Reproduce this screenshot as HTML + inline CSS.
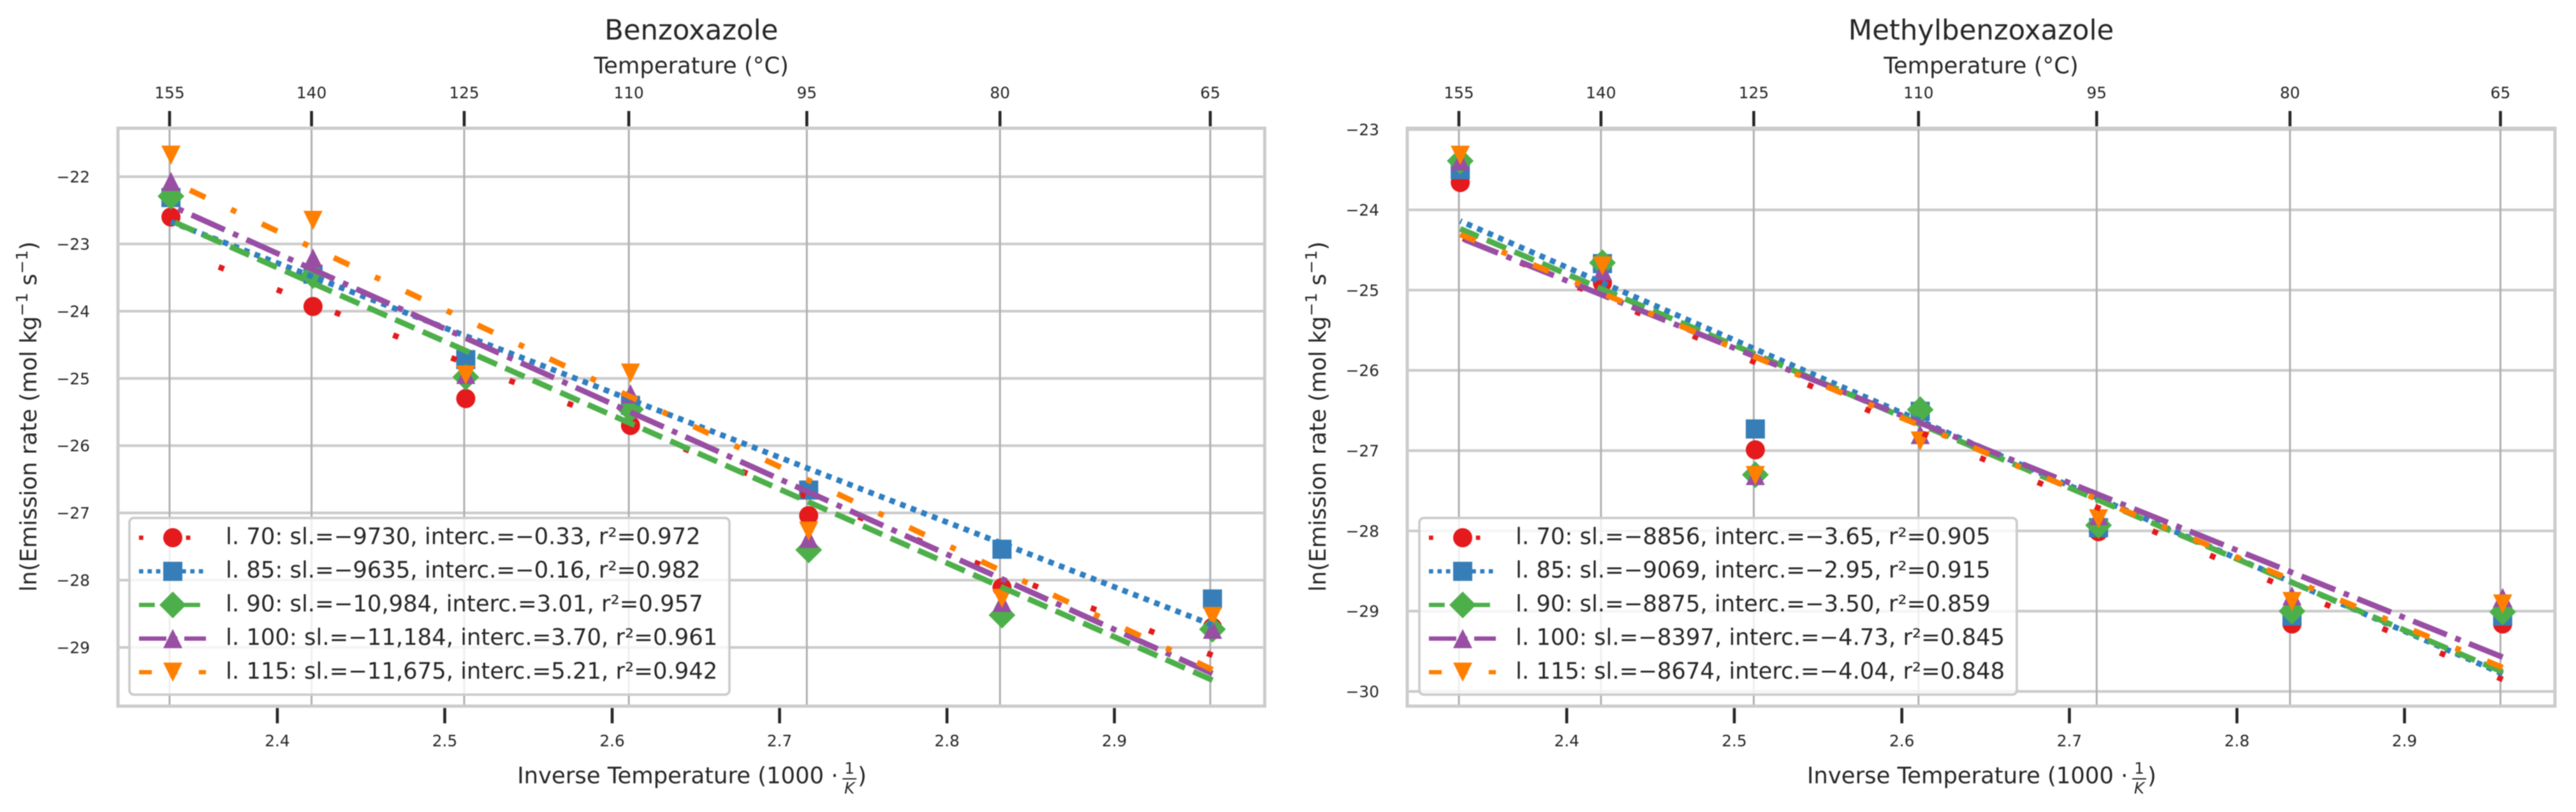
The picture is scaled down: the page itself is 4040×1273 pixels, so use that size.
<!DOCTYPE html>
<html lang="en">
<head>
<meta charset="utf-8">
<title>Emission rate Arrhenius plots</title>
<style>
html,body{margin:0;padding:0;background:#fff;width:4040px;height:1273px;overflow:hidden}
svg{display:block;filter:blur(0.7px)}
text{font-family:"DejaVu Sans","Liberation Sans",sans-serif;fill:#262626}
</style>
</head>
<body>
<svg id="chart" xmlns="http://www.w3.org/2000/svg" width="4040" height="1273" viewBox="0 0 4040 1273"></svg>
<script>
// ---- chart data ----
const levels = [70, 85, 90, 100, 115];
const tempTicks = [155, 140, 125, 110, 95, 80, 65];
const inverseTicks = [2.4, 2.5, 2.6, 2.7, 2.8, 2.9];
const inverseLimits = [2.3048, 2.9898];

const benzTitle = "Benzoxazole";
const benzYTicks = [-22, -23, -24, -25, -26, -27, -28, -29];
const benzYLimits = [-29.873, -21.279];
const benzL70 = [-22.60, -23.93, -25.30, -25.70, -27.04, -28.11, -28.70];
const benzL85 = [-22.31, -23.45, -24.72, -25.40, -26.66, -27.54, -28.28];
const benzL90 = [-22.29, -23.47, -24.98, -25.46, -27.55, -28.52, -28.73];
const benzL100 = [-22.07, -23.21, -24.94, -25.23, -27.38, -28.33, -28.73];
const benzL115 = [-21.68, -22.65, -24.95, -24.92, -27.27, -28.27, -28.54];
const benzSlopes = [-9730, -9635, -10984, -11184, -11675];
const benzIntercepts = [-0.33, -0.16, 3.01, 3.70, 5.21];
const benzR2 = [0.972, 0.982, 0.957, 0.961, 0.942];

const methTitle = "Methylbenzoxazole";
const methYTicks = [-23, -24, -25, -26, -27, -28, -29, -30];
const methYLimits = [-30.183, -22.983];
const methL70 = [-23.66, -24.91, -26.99, -26.52, -28.01, -29.16, -29.16];
const methL85 = [-23.50, -24.67, -26.73, -26.51, -27.96, -29.06, -29.06];
const methL90 = [-23.39, -24.66, -27.30, -26.49, -27.93, -29.00, -29.01];
const methL100 = [-23.39, -24.76, -27.31, -26.80, -27.81, -28.81, -28.83];
const methL115 = [-23.32, -24.70, -27.31, -26.88, -27.85, -28.88, -28.91];
const methSlopes = [-8856, -9069, -8875, -8397, -8674];
const methIntercepts = [-3.65, -2.95, -3.50, -4.73, -4.04];
const methR2 = [0.905, 0.915, 0.859, 0.845, 0.848];

// ---- styling ----
const seriesColors = ["#e41a1c", "#377eb8", "#4daf4a", "#984ea3", "#ff7f00"];
const lineColors = ["#e41a1c", "#2f7fc1", "#4daf4a", "#984ea3", "#ff7f00"];
const dashPatterns = [[1, 10], [1, 1], [3.7, 1.6], [6.4, 1.6, 1, 1.6], [3, 5, 1, 5]];
const markerKinds = ["circle", "square", "diamond", "triangle-up", "triangle-down"];
const panelLayouts = [
  {left: 185, right: 1983.5, top: 201, bottom: 1107, legendLeft: 203, legendRight: 1144, name: "benzoxazole"},
  {left: 2207, right: 4007, top: 201, bottom: 1107, legendLeft: 2226, legendRight: 3163, name: "methylbenzoxazole"}
];

const NS = "http://www.w3.org/2000/svg";
const root = document.getElementById("chart");

function make(tag, attrs, parent, text) {
  const node = document.createElementNS(NS, tag);
  for (const k in attrs) node.setAttribute(k, attrs[k]);
  if (text !== undefined) node.textContent = text;
  parent.appendChild(node);
  return node;
}
function minus(s) { return String(s).replace("-", "\u2212"); }
function formatSlope(v) {
  const a = Math.abs(v);
  const body = a >= 10000 ? Math.floor(a / 1000) + "," + String(a % 1000).padStart(3, "0") : String(a);
  return (v < 0 ? "\u2212" : "") + body;
}
function legendLabel(i, slopes, intercepts, r2) {
  return "l. " + levels[i] + ": sl.=" + formatSlope(slopes[i]) + ", interc.=" + minus(intercepts[i].toFixed(2)) + ", r\u00b2=" + r2[i].toFixed(3);
}
function drawMarker(kind, cx, cy, color, parent) {
  const r = 15, d = 21;
  if (kind === "circle") return make("circle", {cx: cx, cy: cy, r: r, fill: color}, parent);
  if (kind === "square") return make("rect", {x: cx - r, y: cy - r, width: 2 * r, height: 2 * r, fill: color}, parent);
  let pts;
  if (kind === "diamond") pts = [[cx, cy - d], [cx + d, cy], [cx, cy + d], [cx - d, cy]];
  if (kind === "triangle-up") pts = [[cx, cy - r], [cx + r, cy + r], [cx - r, cy + r]];
  if (kind === "triangle-down") pts = [[cx - r, cy - r], [cx + r, cy - r], [cx, cy + r]];
  return make("polygon", {points: pts.map(p => p.join(",")).join(" "), fill: color}, parent);
}
function dashString(pattern, width) { return pattern.map(p => (p * width).toFixed(2)).join(" "); }

function drawPanel(layout, title, yTicks, yLimits, series, slopes, intercepts, r2) {
  const g = make("g", {}, root);
  
  

  const xScale = v => layout.left + (v - inverseLimits[0]) / (inverseLimits[1] - inverseLimits[0]) * (layout.right - layout.left);
  const yScale = v => layout.bottom - (v - yLimits[0]) / (yLimits[1] - yLimits[0]) * (layout.bottom - layout.top);
  const centerX = (layout.left + layout.right) / 2;

  // horizontal grid
  yTicks.forEach(v => {
    const y = yScale(v);
    const line = make("line", {x1: layout.left, x2: layout.right, y1: y, y2: y, stroke: "#cccccc", "stroke-width": 4.2}, g);
    
    
    const label = make("text", {x: layout.left - 44, y: y + 9, "text-anchor": "end", "font-size": 24.8}, g, minus(v));
    
    
  });

  // temperature axis grid, ticks, labels
  tempTicks.forEach(t => {
    const x = xScale(1000 / (t + 273.15));
    const grid = make("line", {x1: x, x2: x, y1: layout.top, y2: layout.bottom, stroke: "#b0b0b0", "stroke-width": 3}, g);
    
    
    const tick = make("line", {x1: x, x2: x, y1: 174, y2: 198, stroke: "#262626", "stroke-width": 4.6}, g);
    
    
    const label = make("text", {x: x, y: 154, "text-anchor": "middle", "font-size": 24.8}, g, String(t));
    
    
  });

  // inverse temperature ticks
  inverseTicks.forEach(v => {
    const x = xScale(v);
    const tick = make("line", {x1: x, x2: x, y1: 1110, y2: 1134, stroke: "#262626", "stroke-width": 4.6}, g);
    
    
    const label = make("text", {x: x, y: 1170, "text-anchor": "middle", "font-size": 24.8}, g, v.toFixed(1));
    
    
  });

  // spines
  const frame = make("rect", {x: layout.left, y: layout.top, width: layout.right - layout.left, height: layout.bottom - layout.top, fill: "none", stroke: "#cccccc", "stroke-width": 5}, g);
  
  

  // markers
  series.forEach((values, s) => {
    values.forEach((v, i) => {
      const m = drawMarker(markerKinds[s], xScale(1000 / (tempTicks[i] + 273)), yScale(v), seriesColors[s], g);
      
      
    });
  });

  // fit lines, drawn from the coolest to the hottest point
  series.forEach((values, s) => {
    const a = 1000 / (tempTicks[tempTicks.length - 1] + 273);
    const b = 1000 / (tempTicks[0] + 273);
    const fit = x => intercepts[s] + slopes[s] / 1000 * x;
    const line = make("line", {x1: xScale(a), y1: yScale(fit(a)), x2: xScale(b), y2: yScale(fit(b)), stroke: lineColors[s], "stroke-width": 8.9, "stroke-dasharray": dashString(dashPatterns[s], 8.9)}, g);
    
    
  });

  // titles
  const titleText = make("text", {x: centerX, y: 62, "text-anchor": "middle", "font-size": 43.4}, g, title);
  
  
  const topTitle = make("text", {x: centerX, y: 115, "text-anchor": "middle", "font-size": 35.4}, g, "Temperature (\u00b0C)");
  
  

  // x axis title
  const xTitle = make("g", {}, g);
  
  
  make("text", {x: centerX - 273, y: 1228, "font-size": 35.4}, xTitle, "Inverse Temperature (1000 \u00b7");
  make("text", {x: centerX + 248, y: 1213, "text-anchor": "middle", "font-size": 24.6}, xTitle, "1");
  make("line", {x1: centerX + 237, x2: centerX + 259, y1: 1221, y2: 1221, stroke: "#262626", "stroke-width": 2}, xTitle);
  make("text", {x: centerX + 248, y: 1244, "text-anchor": "middle", "font-size": 24.6, "font-style": "italic"}, xTitle, "K");
  make("text", {x: centerX + 261, y: 1228, "font-size": 35.4}, xTitle, ")");

  // y axis title
  const yTitle = make("text", {transform: "translate(" + (layout.left - 128) + ",653) rotate(-90)", "text-anchor": "middle", "font-size": 35.4}, g);
  
  
  make("tspan", {}, yTitle, "ln(Emission rate (mol kg");
  make("tspan", {dy: -14, "font-size": 25}, yTitle, "\u22121");
  make("tspan", {dy: 14}, yTitle, " s");
  make("tspan", {dy: -14, "font-size": 25}, yTitle, "\u22121");
  make("tspan", {dy: 14}, yTitle, ")");

  // legend
  const legend = make("g", {}, g);
  
  
  make("rect", {x: layout.legendLeft, y: 812, width: layout.legendRight - layout.legendLeft, height: 277, rx: 7, ry: 7, fill: "#ffffff", "fill-opacity": 0.8, stroke: "#cccccc", "stroke-width": 3.8}, legend);
  const h0 = layout.legendLeft + 15, h1 = h0 + 105, hc = h0 + 53, textX = layout.legendLeft + 151;
  levels.forEach((lv, s) => {
    const rowY = 843 + 52.7 * s;
    const entry = make("g", {}, legend);
    
    
    make("line", {x1: h0, x2: h1, y1: rowY, y2: rowY, stroke: lineColors[s], "stroke-width": 6.7, "stroke-dasharray": dashString(dashPatterns[s], 6.7)}, entry);
    drawMarker(markerKinds[s], hc, rowY, seriesColors[s], entry);
    make("text", {x: textX, y: rowY + 10, "font-size": 35.4}, entry, legendLabel(s, slopes, intercepts, r2));
  });
}

drawPanel(panelLayouts[0], benzTitle, benzYTicks, benzYLimits, [benzL70, benzL85, benzL90, benzL100, benzL115], benzSlopes, benzIntercepts, benzR2);
drawPanel(panelLayouts[1], methTitle, methYTicks, methYLimits, [methL70, methL85, methL90, methL100, methL115], methSlopes, methIntercepts, methR2);
</script>
</body>
</html>
